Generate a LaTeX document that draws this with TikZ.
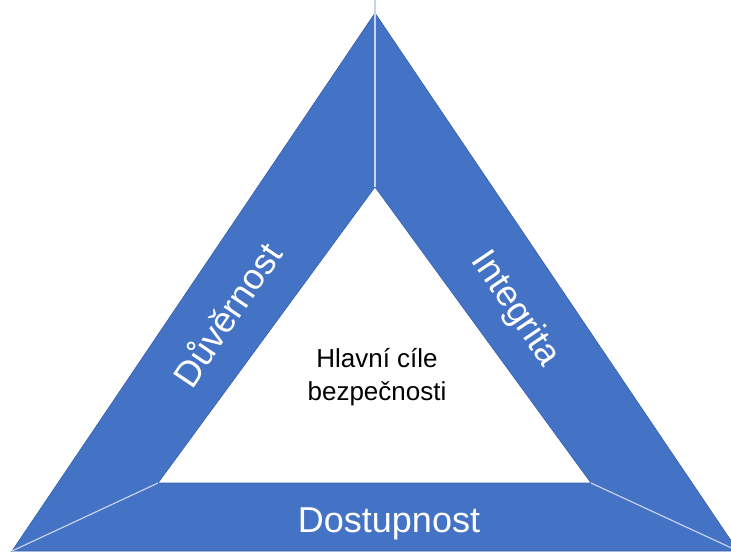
\documentclass[tikz,border=0pt]{standalone}
\usepackage{fontspec}
\setmainfont{Liberation Sans}
\definecolor{band}{HTML}{4472C4}
\definecolor{bandedge}{HTML}{3560B0}
\definecolor{seam}{HTML}{C8D4EE}
\begin{document}
\begin{tikzpicture}[x=1bp,y=-1bp,
  bandfill/.style={fill=band,draw=bandedge,line width=0.6bp,line join=miter},
  seamline/.style={draw=seam,line width=1.2bp},
  bandlabel/.style={text=white,font=\fontsize{36bp}{40bp}\selectfont,inner sep=0pt},
  centerlabel/.style={text=black,font=\fontsize{26bp}{33bp}\selectfont,align=center,inner sep=0pt}]
  \useasboundingbox (0,0) rectangle (731,552);
  \begin{scope}
    \clip (0,0) rectangle (731,552);
    % outer and inner corners
    \coordinate (top) at (375,13);
    \coordinate (bl) at (12,551);
    \coordinate (br) at (738,551);
    \coordinate (itop) at (375,187);
    \coordinate (ibl) at (158,483);
    \coordinate (ibr) at (591,483);
    \coordinate (seamend) at (375,0);
    % three bands
    \path[bandfill] (top) -- (bl) -- (ibl) -- (itop) -- cycle;
    \path[bandfill] (top) -- (br) -- (ibr) -- (itop) -- cycle;
    \path[bandfill] (bl) -- (br) -- (ibr) -- (ibl) -- cycle;
    % seams between the bands
    \draw[seamline] (seamend) -- (itop);
    \draw[seamline] (ibl) -- (bl);
    \draw[seamline] (ibr) -- (br);
  \end{scope}
  % labels
  \node[bandlabel,rotate=56] (duv) at (226,314) {Důvěrnost};
  \node[bandlabel,rotate=-56] (int) at (515,309) {Integrita};
  \node[bandlabel,anchor=base] (dos) at (389,532) {Dostupnost};
  \node[centerlabel] (goal) at (377,377) {Hlavní cíle\\bezpečnosti};
\end{tikzpicture}
\end{document}
